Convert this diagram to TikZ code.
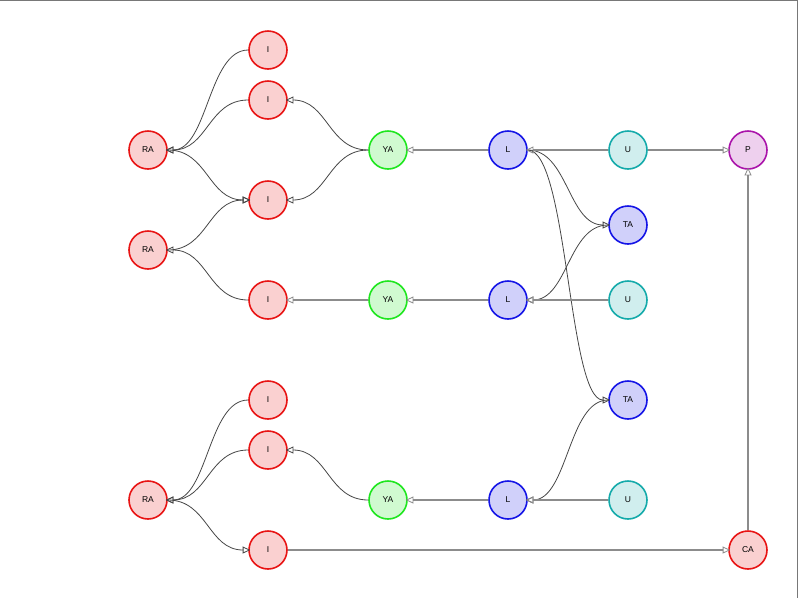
\documentclass[tikz,border=0pt]{standalone}
\usepackage{fontspec}
\setmainfont{Liberation Sans}
\usetikzlibrary{arrows.meta}
\definecolor{redS}{RGB}{232,20,20}
\definecolor{redF}{RGB}{250,208,208}
\definecolor{grnS}{RGB}{30,230,30}
\definecolor{grnF}{RGB}{208,250,208}
\definecolor{bluS}{RGB}{20,20,230}
\definecolor{bluF}{RGB}{208,208,250}
\definecolor{tealS}{RGB}{20,170,170}
\definecolor{tealF}{RGB}{208,238,238}
\definecolor{purS}{RGB}{170,20,170}
\definecolor{purF}{RGB}{238,208,238}
\definecolor{lineG}{RGB}{140,140,140}
\definecolor{lineD}{RGB}{70,70,70}
\definecolor{frameG}{RGB}{120,120,120}
\begin{document}
\begin{tikzpicture}[x=1pt,y=-1pt,
  nd/.style={circle,minimum size=38pt,inner sep=0pt,line width=1.6pt,font=\fontsize{8.5}{10}\selectfont},
  rn/.style={nd,draw=redS,fill=redF},
  gn/.style={nd,draw=grnS,fill=grnF},
  bn/.style={nd,draw=bluS,fill=bluF},
  tn/.style={nd,draw=tealS,fill=tealF},
  pn/.style={nd,draw=purS,fill=purF},
  tip/.style={-{Triangle[open,length=7.5pt,width=7pt,line width=0.8pt]}},
  crv/.style={draw=lineD,line width=0.8pt,tip,shorten >=-2pt},
  strt/.style={draw=lineG,line width=1.6pt,tip,shorten >=-2pt}]
\useasboundingbox (0,0) rectangle (798,598);
\draw[frameG,line width=1pt] (0,0.5) -- (797.5,0.5) -- (797.5,598);
% nodes
\node[rn] (I1) at (268,50) {I};
\node[rn] (I2) at (268,100) {I};
\node[rn] (RA1) at (148,150) {RA};
\node[gn] (YA1) at (388,150) {YA};
\node[bn] (L1) at (508,150) {L};
\node[tn] (U1) at (628,150) {U};
\node[pn] (P) at (748,150) {P};
\node[rn] (I3) at (268,200) {I};
\node[bn] (TA1) at (628,225) {TA};
\node[rn] (RA2) at (148,250) {RA};
\node[rn] (I4) at (268,300) {I};
\node[gn] (YA2) at (388,300) {YA};
\node[bn] (L2) at (508,300) {L};
\node[tn] (U2) at (628,300) {U};
\node[bn] (TA2) at (628,400) {TA};
\node[rn] (I5) at (268,400) {I};
\node[rn] (I6) at (268,450) {I};
\node[rn] (RA3) at (148,500) {RA};
\node[gn] (YA3) at (388,500) {YA};
\node[bn] (L3) at (508,500) {L};
\node[tn] (U3) at (628,500) {U};
\node[rn] (I7) at (268,550) {I};
\node[rn] (CA) at (748,550) {CA};
% curved edges
\draw[crv] (I1.west) .. controls +(-40,0) and +(40,0) .. (RA1.east);
\draw[crv] (I2.west) .. controls +(-40,0) and +(40,0) .. (RA1.east);
\draw[crv] (RA1.east) .. controls +(40,0) and +(-40,0) .. (I3.west);
\draw[crv] (RA2.east) .. controls +(40,0) and +(-40,0) .. (I3.west);
\draw[crv] (I4.west) .. controls +(-40,0) and +(40,0) .. (RA2.east);
\draw[crv] (YA1.west) .. controls +(-40,0) and +(40,0) .. (I2.east);
\draw[crv] (YA1.west) .. controls +(-40,0) and +(40,0) .. (I3.east);
\draw[crv] (L1.east) .. controls +(40,0) and +(-40,0) .. (TA1.west);
\draw[crv] (TA1.west) .. controls +(-40,0) and +(40,0) .. (L2.east);
\draw[crv] (L1.east) .. controls +(40,0) and +(-40,0) .. (TA2.west);
\draw[crv] (TA2.west) .. controls +(-40,0) and +(40,0) .. (L3.east);
\draw[crv] (I5.west) .. controls +(-40,0) and +(40,0) .. (RA3.east);
\draw[crv] (I6.west) .. controls +(-40,0) and +(40,0) .. (RA3.east);
\draw[crv] (RA3.east) .. controls +(40,0) and +(-40,0) .. (I7.west);
\draw[crv] (YA3.west) .. controls +(-40,0) and +(40,0) .. (I6.east);
% straight edges
\draw[strt] (L1) -- (YA1);
\draw[strt] (U1) -- (L1);
\draw[strt] (U1) -- (P);
\draw[strt] (YA2) -- (I4);
\draw[strt] (L2) -- (YA2);
\draw[strt] (U2) -- (L2);
\draw[strt] (L3) -- (YA3);
\draw[strt] (U3) -- (L3);
\draw[strt] (I7) -- (CA);
\draw[strt] (CA) -- (P);
\end{tikzpicture}
\end{document}
